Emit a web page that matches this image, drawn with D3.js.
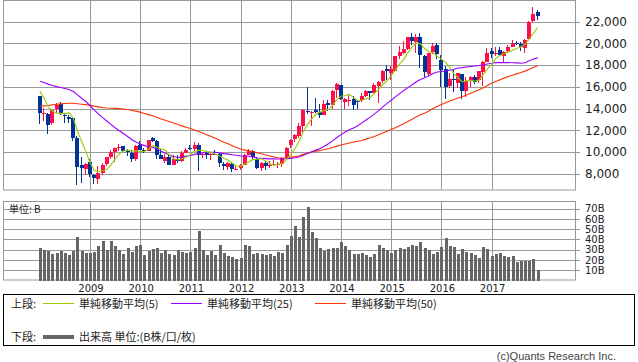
<!doctype html>
<html lang="ja">
<head>
<meta charset="UTF-8" />
<script src="https://d3js.org/d3.v7.min.js"></script>
<title>月足チャート</title>
<style>
  body { margin: 0; background: #fff; }
  svg { display: block; }
</style>
</head>
<body>
<div id="chart"></div>
<script>
// months Jan 2008 .. Dec 2017 (index 0..119)
const years = [2009, 2010, 2011, 2012, 2013, 2014, 2015, 2016, 2017]
const priceTicks = [8000, 10000, 12000, 14000, 16000, 18000, 20000, 22000]
const volumeTicks = [10, 20, 30, 40, 50, 60, 70]

const opens = [
  15156, 13497, 13489, 12656, 13965, 14440, 13446, 13208, 13141, 11294, 8768, 8408,
  9034, 7907, 7522, 8111, 8900, 9580, 9966, 10400, 10530, 10130, 9935, 9400,
  10609, 10184, 10130, 11250, 11000, 9700, 9190, 9550, 8800, 9400, 9200, 9950,
  10350, 10250, 10650, 9700, 9900, 9700, 9850, 9800, 8900, 8600, 8900, 8400,
  8550, 8800, 9750, 10100, 9400, 8500, 9000, 8700, 8800, 8800, 8900, 9450,
  10600, 11200, 11500, 12350, 13800, 13550, 13900, 13700, 13400, 14500, 14300, 15700,
  16150, 14650, 14700, 14900, 14700, 14800, 15200, 15650, 15450, 16100, 16500, 17600,
  17300, 17500, 18800, 19100, 19500, 20550, 20100, 20600, 18800, 17200, 19200, 19900,
  18450, 17600, 16100, 16700, 16400, 17200, 15600, 16500, 16900, 16600, 17400, 18300,
  19300, 19100, 19400, 18800, 19300, 19700, 20000, 19950, 19600, 20400, 22100, 22916
]
const highs = [
  15156, 14031, 13566, 13894, 14490, 14601, 13603, 13430, 13172, 11456, 9521, 9000,
  9325, 7995, 8743, 9007, 9522, 10170, 10357, 10767, 10560, 10300, 10158, 10638,
  10983, 10400, 11140, 11408, 11100, 10250, 9800, 9750, 9700, 9700, 10130, 10400,
  10600, 10890, 10800, 9900, 10100, 9900, 10200, 9900, 9100, 9100, 9100, 8700,
  8850, 9800, 10255, 10150, 9500, 9050, 9150, 9200, 9300, 9100, 9500, 10450,
  11200, 11700, 12650, 14000, 15942, 13800, 14950, 14450, 14800, 14800, 15750, 16320,
  16150, 15000, 15300, 15200, 14800, 15400, 15700, 15650, 16400, 16500, 17520, 18030,
  17900, 18800, 19780, 20250, 20600, 20950, 20850, 20950, 18900, 19100, 20000, 20000,
  18900, 17900, 17300, 17600, 17250, 17200, 16900, 17000, 17100, 17500, 18400, 19600,
  19600, 19700, 19670, 19300, 19900, 20300, 20200, 20100, 20400, 22100, 23382, 23050
]
const lows = [
  12573, 12818, 11691, 12441, 13612, 13403, 12671, 12652, 11040, 6995, 7162, 7863,
  7671, 7055, 7021, 7866, 8743, 9380, 9050, 10090, 9980, 9674, 9076, 9188,
  10252, 9868, 10100, 10900, 9380, 9350, 9000, 8800, 8800, 9030, 9120, 9900,
  10150, 10100, 8227, 9440, 9350, 9300, 9780, 8656, 8350, 8340, 8135, 8300,
  8350, 8800, 9700, 9400, 8450, 8240, 8350, 8550, 8700, 8500, 8600, 9400,
  10400, 10900, 11300, 11800, 13500, 12415, 13600, 13150, 13400, 13800, 14000, 15000,
  14800, 13995, 14200, 13885, 13964, 14600, 15100, 14750, 15400, 14529, 16400, 16670,
  16590, 17400, 18600, 19000, 19400, 19900, 19100, 17700, 16900, 17000, 19000, 18600,
  16000, 14865, 15900, 15500, 15900, 14864, 15100, 16000, 16300, 16400, 16111, 18300,
  18650, 18800, 18900, 18224, 19100, 19700, 19900, 19300, 19100, 20400, 21900, 22120
]
const closes = [
  13592, 13603, 12526, 13850, 14339, 13482, 13377, 13073, 11260, 8577, 8512, 8860,
  7994, 7568, 8110, 8828, 9523, 9958, 10357, 10493, 10133, 10034, 9345, 10546,
  10198, 10126, 11090, 11057, 9769, 9383, 9537, 8824, 9369, 9202, 9937, 10229,
  10238, 10624, 9755, 9850, 9694, 9816, 9833, 8955, 8700, 8988, 8434, 8455,
  8802, 9723, 10083, 9520, 8543, 9007, 8695, 8840, 8870, 8928, 9446, 10395,
  11139, 11559, 12398, 13861, 13775, 13677, 13668, 13389, 14456, 14328, 15662, 16291,
  14915, 14841, 14828, 14304, 14632, 15162, 15621, 15425, 16174, 16414, 17460, 17451,
  17674, 18798, 19207, 19520, 20563, 20236, 20585, 18890, 17388, 19083, 19747, 19034,
  17518, 16027, 16759, 16666, 17235, 15576, 16569, 16887, 16450, 17425, 18308, 19114,
  19041, 19119, 18909, 19197, 19651, 20033, 19925, 19646, 20356, 22012, 22725, 22553
]
const ma5 = [
  15621, 14984, 14142, 13776, 13582, 13560, 13515, 13624, 13106, 11954, 10960, 10056,
  9041, 8302, 8209, 8272, 8405, 8797, 9355, 9832, 10093, 10195, 10072, 10110,
  10051, 10050, 10261, 10603, 10448, 10285, 10167, 9714, 9376, 9263, 9374, 9512,
  9795, 10046, 10157, 10139, 10032, 9948, 9790, 9630, 9400, 9258, 8982, 8706,
  8676, 8880, 9099, 9317, 9334, 9375, 9170, 8921, 8791, 8868, 8956, 9296,
  9756, 10293, 10987, 11870, 12546, 13054, 13476, 13674, 13793, 13904, 14301, 14825,
  15130, 15207, 15307, 15036, 14704, 14753, 14909, 15029, 15403, 15759, 16219, 16585,
  17035, 17559, 18118, 18530, 19152, 19665, 20022, 19959, 19532, 19236, 19139, 18828,
  18554, 18282, 17817, 17201, 16841, 16453, 16561, 16587, 16543, 16581, 17128, 17637,
  18068, 18601, 18898, 19076, 19183, 19382, 19543, 19690, 19922, 20394, 20933, 21458
]
const ma25 = [
  16521, 16399, 16252, 16123, 16021, 15941, 15856, 15761, 15566, 15264, 14948, 14652,
  14282, 13890, 13510, 13172, 12857, 12540, 12229, 11958, 11701, 11431, 11135, 10930,
  10726, 10587, 10486, 10428, 10264, 10066, 9908, 9726, 9578, 9496, 9550, 9619,
  9674, 9779, 9867, 9936, 9971, 9983, 9978, 9921, 9850, 9804, 9740, 9704,
  9635, 9616, 9614, 9551, 9451, 9420, 9393, 9365, 9366, 9349, 9359, 9377,
  9413, 9466, 9537, 9701, 9858, 10018, 10172, 10314, 10534, 10759, 11026, 11340,
  11599, 11840, 12045, 12213, 12418, 12683, 12947, 13216, 13510, 13812, 14153, 14473,
  14764, 15071, 15376, 15661, 15929, 16188, 16464, 16673, 16833, 17018, 17235, 17370,
  17419, 17463, 17540, 17614, 17731, 17769, 17825, 17875, 17916, 17966, 18042, 18108,
  18172, 18230, 18234, 18234, 18239, 18218, 18205, 18168, 18227, 18411, 18557, 18669
]
const ma50 = [
  14192, 14251, 14286, 14342, 14394, 14429, 14472, 14496, 14495, 14444, 14398, 14360,
  14302, 14224, 14158, 14100, 14057, 14036, 14017, 13996, 13960, 13913, 13828, 13767,
  13674, 13554, 13443, 13340, 13194, 13043, 12925, 12791, 12669, 12531, 12407, 12283,
  12163, 12031, 11878, 11723, 11571, 11420, 11259, 11075, 10904, 10752, 10585, 10420,
  10282, 10171, 10100, 10019, 9939, 9842, 9729, 9636, 9546, 9463, 9427, 9464,
  9516, 9570, 9658, 9784, 9897, 9994, 10077, 10146, 10228, 10304, 10415, 10540,
  10652, 10737, 10830, 10914, 10984, 11067, 11184, 11304, 11437, 11589, 11751, 11916,
  12071, 12242, 12421, 12599, 12815, 13023, 13241, 13422, 13574, 13776, 13997, 14198,
  14380, 14531, 14690, 14829, 14972, 15093, 15254, 15411, 15566, 15738, 15927, 16131,
  16323, 16497, 16652, 16805, 16950, 17074, 17197, 17316, 17450, 17622, 17788, 17952
]
// volume in billions of shares
const volumes = [
  31.4, 29.8, 28.8, 25.9, 27.1, 28.8, 27.1, 24.9, 28.8, 42.4, 28.8, 27.1,
  27.1, 28.0, 33.7, 38.5, 29.8, 38.5, 33.7, 29.8, 25.9, 31.4, 28.0, 33.7,
  34.6, 24.9, 28.8, 30.9, 31.4, 27.1, 29.8, 25.9, 24.9, 29.8, 28.0, 27.1,
  28.0, 31.4, 48.3, 29.8, 24.9, 28.8, 24.9, 34.6, 27.1, 23.9, 22.6, 20.7,
  21.7, 34.6, 33.7, 25.9, 27.1, 25.9, 24.9, 25.9, 23.9, 27.4, 27.1, 34.6,
  43.4, 53.0, 42.4, 61.9, 71.7, 47.3, 41.5, 31.7, 29.1, 30.7, 31.7, 31.7,
  37.6, 33.7, 29.8, 25.9, 25.9, 26.8, 24.9, 22.9, 25.9, 34.6, 31.7, 29.8,
  26.8, 29.8, 31.7, 30.7, 32.7, 34.6, 33.7, 37.6, 31.7, 29.8, 25.9, 27.8,
  32.7, 41.5, 33.7, 32.7, 25.9, 30.7, 27.8, 26.8, 24.9, 22.0, 32.7, 30.7,
  23.9, 25.9, 26.8, 23.9, 22.9, 23.9, 18.0, 19.0, 19.0, 19.0, 21.0, 10.2
]

const months = d3.range(closes.length)
const candles = months.map(i => ({ i, o: opens[i], h: highs[i], l: lows[i], c: closes[i] }))

const W = 638, H = 362
const left = 3, right = 575
const upTop = 0, upBottom = 190
const lowTop = 201, lowBottom = 280.5

const UP = "#ff0f46", DOWN = "#003399", GRID = "#999"
const numFont = "'DejaVu Sans', sans-serif"
const jpFont = "'Noto Sans CJK JP', sans-serif"

const x = d3.scaleLinear().domain([0, 119]).range([39.8, 537.6])
const y = d3.scaleLinear().domain([6500, 24000]).range([upBottom, upTop])
const yv = d3.scaleLinear().domain([0, 77.5]).range([lowBottom, lowTop])
const px = v => Math.round(v) + 0.5

const svg = d3.select("#chart").append("svg")
  .attr("width", W)
  .attr("height", H)

// ---- upper panel: price ----
const up = svg.append("g")

up.selectAll(".hgrid").data(priceTicks).join("line")
  .attr("x1", left).attr("x2", right + 5)
  .attr("y1", d => px(y(d))).attr("y2", d => px(y(d)))
  .attr("stroke", GRID)

up.selectAll(".vgrid").data(years).join("line")
  .attr("x1", d => px(x((d - 2008) * 12))).attr("x2", d => px(x((d - 2008) * 12)))
  .attr("y1", upTop).attr("y2", upBottom)
  .attr("stroke", GRID)

up.append("rect")
  .attr("x", left + 0.5).attr("y", upTop + 0.5)
  .attr("width", right - left).attr("height", upBottom - upTop - 0.5)
  .attr("fill", "none").attr("stroke", GRID)

up.selectAll(".plabel").data(priceTicks).join("text")
  .attr("x", 585).attr("y", d => y(d))
  .attr("dy", "0.36em")
  .attr("font-family", numFont).attr("font-size", 12)
  .attr("fill", "#222")
  .text(d => d3.format(",")(d))

// moving averages
const maLine = d3.line().x((d, i) => x(i)).y(d => y(d))
const maSeries = [
  { values: ma50, color: "#ff3300" },
  { values: ma25, color: "#9900ff" },
  { values: ma5, color: "#99cc00" }
]

// candles
const cg = up.selectAll(".candle").data(candles).join("g")
cg.append("rect")
  .attr("x", d => Math.round(x(d.i)) - 1)
  .attr("width", 1)
  .attr("y", d => Math.round(y(d.h)))
  .attr("height", d => Math.max(1, Math.round(y(d.l)) - Math.round(y(d.h))))
  .attr("fill", d => d.c >= d.o ? UP : DOWN)
cg.append("rect")
  .attr("x", d => Math.round(x(d.i)) - 2)
  .attr("width", 4)
  .attr("y", d => Math.round(y(Math.max(d.o, d.c))))
  .attr("height", d => Math.max(1, Math.round(y(Math.min(d.o, d.c))) - Math.round(y(Math.max(d.o, d.c)))))
  .attr("fill", d => d.c >= d.o ? UP : DOWN)

up.selectAll(".ma").data(maSeries).join("path")
  .attr("d", d => maLine(d.values))
  .attr("fill", "none")
  .attr("stroke", d => d.color)
  .attr("stroke-width", 1.1)

// ---- lower panel: volume ----
const low = svg.append("g")

low.selectAll(".hgrid").data(volumeTicks).join("line")
  .attr("x1", left).attr("x2", right + 5)
  .attr("y1", d => px(yv(d))).attr("y2", d => px(yv(d)))
  .attr("stroke", GRID)

low.selectAll(".vgrid").data(years).join("line")
  .attr("x1", d => px(x((d - 2008) * 12))).attr("x2", d => px(x((d - 2008) * 12)))
  .attr("y1", lowTop).attr("y2", lowBottom)
  .attr("stroke", GRID)

low.append("rect")
  .attr("x", left + 0.5).attr("y", lowTop + 0.5)
  .attr("width", right - left).attr("height", lowBottom - lowTop - 1)
  .attr("fill", "none").attr("stroke", GRID)

low.selectAll(".bar").data(volumes).join("rect")
  .attr("x", (d, i) => Math.round(x(i)) - 1)
  .attr("width", 3)
  .attr("y", d => Math.round(yv(d)))
  .attr("height", d => Math.round(lowBottom) - Math.round(yv(d)))
  .attr("fill", "#666")

low.selectAll(".vlabel").data(volumeTicks).join("text")
  .attr("x", 585).attr("y", d => yv(d))
  .attr("dy", "0.36em")
  .attr("font-family", numFont).attr("font-size", 10)
  .attr("fill", "#222")
  .text(d => `${d}B`)

low.append("text")
  .attr("x", 9).attr("y", 213)
  .attr("font-family", jpFont).attr("font-size", 10)
  .attr("fill", "#222")
  .text("単位: B")

low.selectAll(".year").data(years).join("text")
  .attr("x", d => x((d - 2008) * 12) + 1).attr("y", 292)
  .attr("text-anchor", "middle")
  .attr("font-family", numFont).attr("font-size", 10)
  .attr("fill", "#222")
  .text(d => d)

// ---- legend ----
const lg = svg.append("g")
  .attr("font-family", jpFont).attr("font-size", 11).attr("fill", "#222")

lg.append("rect")
  .attr("x", 3.5).attr("y", 294.5).attr("width", 631).attr("height", 51)
  .attr("fill", "none").attr("stroke", "#000")

lg.append("text").attr("x", 11).attr("y", 308).text("上段:")
const legendItems = [
  { label: "単純移動平均(5)", color: "#99cc00", x0: 43 },
  { label: "単純移動平均(25)", color: "#9900ff", x0: 171 },
  { label: "単純移動平均(50)", color: "#ff3300", x0: 315 }
]
legendItems.forEach(d => {
  lg.append("line")
    .attr("x1", d.x0).attr("x2", d.x0 + 31)
    .attr("y1", 303.5).attr("y2", 303.5)
    .attr("stroke", d.color)
  lg.append("text").attr("x", d.x0 + 36).attr("y", 308).text(d.label)
})

lg.append("text").attr("x", 11).attr("y", 341).text("下段:")
lg.append("rect")
  .attr("x", 43).attr("y", 335).attr("width", 31).attr("height", 4)
  .attr("fill", "#666")
lg.append("text").attr("x", 79).attr("y", 341).text("出来高 単位:(B株/口/枚)")

svg.append("text")
  .attr("x", 616).attr("y", 360)
  .attr("text-anchor", "end")
  .attr("font-family", "'Liberation Sans', Arial, sans-serif")
  .attr("font-size", 11)
  .attr("fill", "#444")
  .text("(c)Quants Research Inc.")
</script>
</body>
</html>
